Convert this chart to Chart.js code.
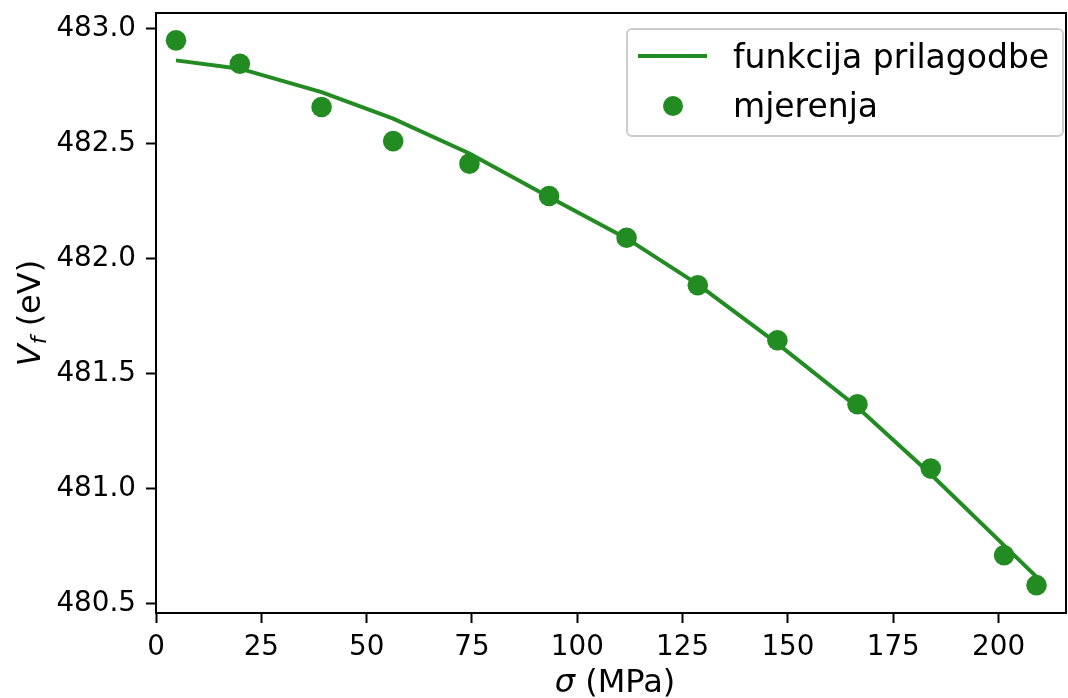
<!DOCTYPE html>
<html>
<head>
<meta charset="utf-8">
<script src="https://cdn.jsdelivr.net/npm/chart.js@4"></script>
<style>
  html, body { margin: 0; padding: 0; background: #fff; }
  #wrap { width: 1068px; height: 698px; position: relative; }
</style>
</head>
<body>
<div id="wrap"><canvas id="c" width="1068" height="698"></canvas></div>
<script>
// ---- data ----
const sigma    = [4.75, 19.9, 39.3, 56.3, 74.4, 93.3, 111.7, 128.6, 147.5, 166.5, 183.9, 201.3, 209.0];
const measured = [482.949, 482.847, 482.659, 482.511, 482.413, 482.272, 482.091, 481.884, 481.645, 481.367, 481.087, 480.710, 480.580];
const fitted   = [482.862, 482.826, 482.724, 482.609, 482.457, 482.268, 482.088, 481.888, 481.630, 481.354, 481.062, 480.753, 480.616];
const xTicks = [0, 25, 50, 75, 100, 125, 150, 175, 200];
const yTicks = [480.5, 481.0, 481.5, 482.0, 482.5, 483.0];
const seriesLabels = ['funkcija prilagodbe', 'mjerenja'];
const xTitle = ['σ', ' (MPa)'];
const yTitle = ['V', 'f', ' (eV)'];

const GREEN = '#228B22';
const FONT = '"DejaVu Sans", sans-serif';

const fitPts = sigma.map((x, i) => ({ x: x, y: fitted[i] }));
const measPts = sigma.map((x, i) => ({ x: x, y: measured[i] }));

const framePlugin = {
  id: 'frame',
  afterDraw(chart) {
    const { ctx, chartArea: a } = chart;
    ctx.save();
    ctx.strokeStyle = '#000';
    ctx.lineWidth = 2;
    ctx.strokeRect(a.left, a.top, a.right - a.left, a.bottom - a.top);
    ctx.restore();
  }
};

const titlesPlugin = {
  id: 'titles',
  afterDraw(chart) {
    const { ctx, chartArea: a } = chart;
    ctx.save();
    ctx.fillStyle = '#000';
    ctx.textBaseline = 'alphabetic';
    ctx.textAlign = 'left';
    // x title
    const fs = 32;
    ctx.font = 'italic ' + fs + 'px ' + FONT;
    const w0 = ctx.measureText(xTitle[0]).width;
    ctx.font = fs + 'px ' + FONT;
    const w1 = ctx.measureText(xTitle[1]).width;
    let x = (a.left + a.right) / 2 + 4 - (w0 + w1) / 2;
    const yb = 692;
    ctx.font = 'italic ' + fs + 'px ' + FONT;
    ctx.fillText(xTitle[0], x, yb);
    ctx.font = fs + 'px ' + FONT;
    ctx.fillText(xTitle[1], x + w0, yb);
    // y title (rotated)
    ctx.translate(40, (a.top + a.bottom) / 2);
    ctx.rotate(-Math.PI / 2);
    ctx.font = 'italic ' + fs + 'px ' + FONT;
    const v0 = ctx.measureText(yTitle[0]).width;
    const sfs = Math.round(fs * 0.7);
    ctx.font = 'italic ' + sfs + 'px ' + FONT;
    const v1 = ctx.measureText(yTitle[1]).width;
    ctx.font = fs + 'px ' + FONT;
    const v2 = ctx.measureText(yTitle[2]).width;
    let sx = -(v0 + v1 + v2) / 2;
    ctx.font = 'italic ' + fs + 'px ' + FONT;
    ctx.fillText(yTitle[0], sx, 0);
    ctx.font = 'italic ' + sfs + 'px ' + FONT;
    ctx.fillText(yTitle[1], sx + v0, 6);
    ctx.font = fs + 'px ' + FONT;
    ctx.fillText(yTitle[2], sx + v0 + v1, 0);
    ctx.restore();
  }
};

const legendPlugin = {
  id: 'innerLegend',
  afterDraw(chart) {
    const { ctx } = chart;
    const ds = chart.data.datasets;
    ctx.save();
    const bx = 627, by = 29, bw = 436, bh = 107;
    ctx.beginPath();
    ctx.roundRect(bx, by, bw, bh, 5);
    ctx.fillStyle = 'rgba(255,255,255,0.8)';
    ctx.fill();
    ctx.strokeStyle = '#cccccc';
    ctx.lineWidth = 2;
    ctx.stroke();
    // line sample
    ctx.strokeStyle = ds[0].borderColor;
    ctx.lineWidth = 4;
    ctx.beginPath();
    ctx.moveTo(638, 56);
    ctx.lineTo(707, 56);
    ctx.stroke();
    // dot sample
    ctx.fillStyle = ds[1].pointBackgroundColor;
    ctx.beginPath();
    ctx.arc(673, 106, 10, 0, Math.PI * 2);
    ctx.fill();
    // texts
    ctx.fillStyle = '#000';
    ctx.font = '33px ' + FONT;
    ctx.textAlign = 'left';
    ctx.textBaseline = 'alphabetic';
    ctx.fillText(ds[0].label, 733, 68);
    ctx.fillText(ds[1].label, 733, 117);
    ctx.restore();
  }
};

const tickFont = { family: FONT, size: 27.8 };

new Chart(document.getElementById('c'), {
  type: 'scatter',
  data: {
    datasets: [
      {
        label: seriesLabels[0],
        data: fitPts,
        showLine: true,
        borderColor: GREEN,
        borderWidth: 4,
        pointRadius: 0,
        pointHoverRadius: 0,
        fill: false,
        tension: 0,
        order: 1
      },
      {
        label: seriesLabels[1],
        data: measPts,
        showLine: false,
        pointRadius: 10.3,
        pointBorderWidth: 0,
        pointBackgroundColor: GREEN,
        pointBorderColor: GREEN,
        order: 2
      }
    ]
  },
  options: {
    responsive: false,
    animation: false,
    events: [],
    layout: { autoPadding: false, padding: { left: 0, right: 2, top: 13, bottom: 0 } },
    plugins: { legend: { display: false }, tooltip: { enabled: false } },
    scales: {
      x: {
        type: 'linear',
        min: 0,
        max: 216,
        afterBuildTicks(s) { s.ticks = xTicks.map(v => ({ value: v })); },
        afterFit(s) { s.height = 85; s.paddingLeft = 0; s.paddingRight = 0; },
        ticks: { font: tickFont, color: '#000', padding: 8, maxRotation: 0, autoSkip: false,
                 callback: v => String(v) },
        grid: { display: true, drawOnChartArea: false, drawTicks: true, tickLength: 10, tickWidth: 2, tickColor: '#000' },
        border: { display: true, color: '#000', width: 2 }
      },
      y: {
        type: 'linear',
        min: 480.459,
        max: 483.068,
        afterBuildTicks(s) { s.ticks = yTicks.map(v => ({ value: v })); },
        afterFit(s) { s.width = 156; s.paddingTop = 0; s.paddingBottom = 0; },
        ticks: { font: tickFont, color: '#000', padding: 10, autoSkip: false,
                 callback: v => Number(v).toFixed(1) },
        grid: { display: true, drawOnChartArea: false, drawTicks: true, tickLength: 10, tickWidth: 2, tickColor: '#000' },
        border: { display: true, color: '#000', width: 2 }
      }
    }
  },
  plugins: [framePlugin, titlesPlugin, legendPlugin]
});
</script>
</body>
</html>
